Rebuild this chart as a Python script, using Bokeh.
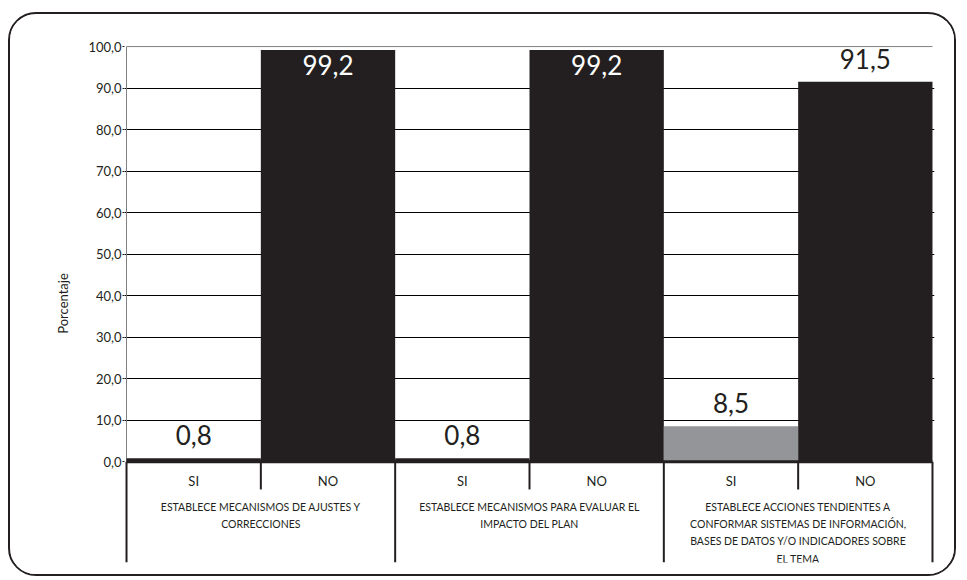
from bokeh.plotting import figure
from bokeh.models import Range1d, FixedTicker, ColumnDataSource
from bokeh.core.properties import value
from bokeh.embed import file_html
from bokeh.resources import INLINE

# ---- data ----
groups = [
    "ESTABLECE MECANISMOS DE AJUSTES Y\nCORRECCIONES",
    "ESTABLECE MECANISMOS PARA EVALUAR EL\nIMPACTO DEL PLAN",
    "ESTABLECE ACCIONES TENDIENTES A\nCONFORMAR SISTEMAS DE INFORMACIÓN,\nBASES DE DATOS Y/O INDICADORES SOBRE\nEL TEMA",
]
answers = ["SI", "NO"]
si_values = [0.8, 0.8, 8.5]
no_values = [99.2, 99.2, 91.5]
y_ticks = [0, 10, 20, 30, 40, 50, 60, 70, 80, 90, 100]
y_label = "Porcentaje"

DARK = "#231f20"
GRAY = "#939598"
si_colors = [DARK, DARK, GRAY]
FONT = "Lato"

def fmt(v):
    return f"{v:.1f}".replace(".", ",")

# ---- build bar table ----
xs, tops, colors, labels, cats = [], [], [], [], []
for gi in range(len(groups)):
    for ai, ans in enumerate(answers):
        v = si_values[gi] if ans == "SI" else no_values[gi]
        xs.append(gi * 2 + ai + 0.5)
        tops.append(v)
        colors.append(si_colors[gi] if ans == "SI" else DARK)
        labels.append(fmt(v))
        cats.append(ans)

bars = ColumnDataSource(dict(x=xs, top=tops, color=colors, label=labels, cat=cats))
inside = ColumnDataSource(dict(
    x=[x for x, t in zip(xs, tops) if t > 95],
    y=[t for t in tops if t > 95],
    label=[l for l, t in zip(labels, tops) if t > 95]))
above = ColumnDataSource(dict(
    x=[x for x, t in zip(xs, tops) if t <= 95],
    y=[t for t in tops if t <= 95],
    label=[l for l, t in zip(labels, tops) if t <= 95]))

n = len(xs)
pad = 0.015
p = figure(width=948, height=564, output_backend="svg", toolbar_location=None,
           x_range=Range1d(-pad, n + pad), y_range=Range1d(-24.3, 100.5),
           min_border_left=114, min_border_right=24, min_border_top=30, min_border_bottom=16)
p.styles = {"margin-left": "8px", "margin-top": "12px",
            "border": f"2px solid {DARK}", "border-radius": "28px", "overflow": "hidden"}
p.outline_line_color = None
p.background_fill_color = "white"
p.border_fill_color = "white"

p.xaxis.visible = False
p.xgrid.visible = False

p.ygrid.ticker = FixedTicker(ticks=[t for t in y_ticks if 0 < t < 100])
p.ygrid.grid_line_color = "#000000"
p.ygrid.grid_line_width = 1

ax = p.yaxis[0]
ax.ticker = FixedTicker(ticks=y_ticks)
ax.major_label_overrides = {t: fmt(t) for t in y_ticks}
ax.major_label_text_font = FONT
ax.major_label_text_font_size = "13px"
ax.major_label_text_color = DARK
ax.major_label_standoff = 1
ax.major_tick_out = 2
ax.major_tick_in = 0
ax.major_tick_line_color = DARK
ax.minor_tick_line_color = None
ax.axis_line_color = None
ax.axis_label = y_label
ax.axis_label_text_font = FONT
ax.axis_label_text_font_size = "13px"
ax.axis_label_text_font_style = "normal"
ax.axis_label_text_color = DARK
ax.axis_label_standoff = 14

# top (100) line and vertical axis line in gray
p.segment(x0=[0], x1=[n], y0=[y_ticks[-1]], y1=[y_ticks[-1]], line_color="#808080", line_width=1)
p.segment(x0=[0], x1=[0], y0=[0], y1=[y_ticks[-1]], line_color="#808080", line_width=1)

# bars
p.vbar(x="x", top="top", width=1.0, bottom=0, source=bars, fill_color="color",
       line_color=None)

# zero line
p.segment(x0=[0], x1=[n], y0=[0], y1=[0], line_color=DARK, line_width=3)

# separators
sep_x = list(range(n + 1))
sep_bottom = [-24.3 if i % 2 == 0 else -6.7 for i in sep_x]
p.segment(x0=sep_x, x1=sep_x, y0=[0] * len(sep_x), y1=sep_bottom, line_color=DARK, line_width=2)

# value labels
p.text(x="x", y="y", text="label", source=above, text_align="center",
       text_baseline="bottom", y_offset=-13, text_font=value(FONT),
       text_font_size="26px", text_color=DARK)
p.text(x="x", y="y", text="label", source=inside, text_align="center",
       text_baseline="top", y_offset=5, text_font=value(FONT),
       text_font_size="26px", text_color="white")

# SI / NO labels
p.text(x=xs, y=[-4.6] * n, text=cats, text_align="center", text_baseline="middle",
       text_font=value(FONT), text_font_size="13px", text_color=DARK)

# group labels
gx = [gi * 2 + 1 for gi in range(len(groups))]
p.text(x=gx, y=[-9.4] * len(groups), text=groups, text_align="center", text_baseline="top",
       text_font=value(FONT), text_font_size="10.5px", text_color=DARK, text_line_height=1.45)

open("out.html", "w").write(file_html(p, INLINE))
